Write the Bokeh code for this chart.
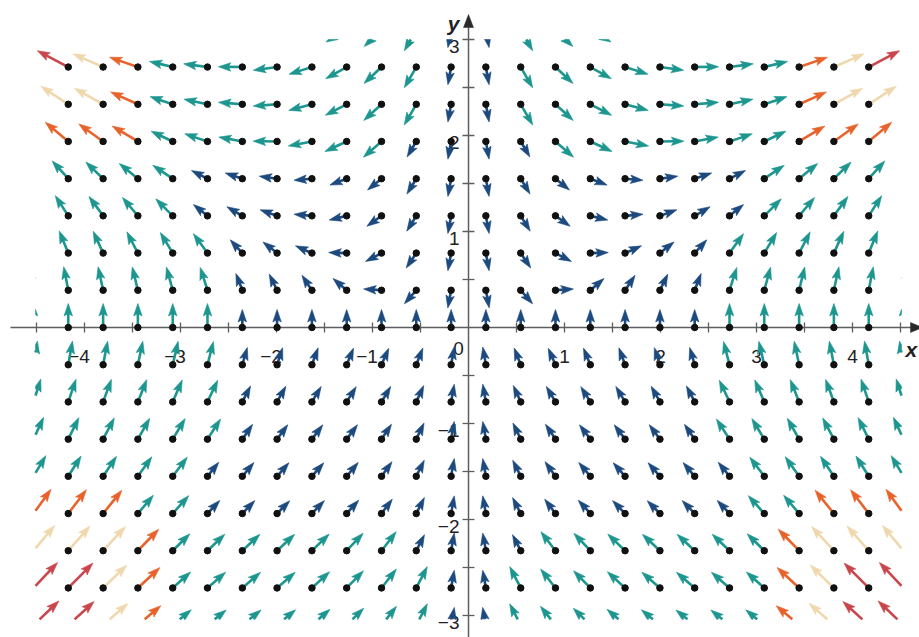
import numpy as np
from bokeh.plotting import figure
from bokeh.models import Range1d
from bokeh.embed import file_html
from bokeh.resources import INLINE
from bokeh.core.properties import value

# ---------------- data ----------------
X_COLS = [-4.531, -4.169, -3.806, -3.444, -3.081, -2.719, -2.356, -1.994, -1.631, -1.269, -0.906, -0.544, -0.181,
          0.181, 0.544, 0.906, 1.269, 1.631, 1.994, 2.356, 2.719, 3.081, 3.444, 3.806, 4.169, 4.531]
Y_ROWS = [3.1, 2.713, 2.325, 1.938, 1.55, 1.163, 0.775, 0.388, 0.0,
          -0.388, -0.775, -1.163, -1.55, -1.938, -2.325, -2.713, -3.1]

# horizontal components, one list per row (top to bottom)
U_ROWS = [
    [-28.09,-25.85,-23.60,-21.35,-19.10,-16.86,-14.61,-12.36,-10.11,-7.87,-5.62,-3.37,-1.12,1.12,3.37,5.62,7.87,10.11,12.36,14.61,16.86,19.10,21.35,23.60,25.85,28.09],
    [-24.58,-22.62,-20.65,-18.68,-16.72,-14.75,-12.78,-10.82,-8.85,-6.88,-4.92,-2.95,-0.98,0.98,2.95,4.92,6.88,8.85,10.82,12.78,14.75,16.72,18.68,20.65,22.62,24.58],
    [-21.07,-19.38,-17.70,-16.01,-14.33,-12.64,-10.96,-9.27,-7.59,-5.90,-4.21,-2.53,-0.84,0.84,2.53,4.21,5.90,7.59,9.27,10.96,12.64,14.33,16.01,17.70,19.38,21.07],
    [-17.56,-16.15,-14.75,-13.34,-11.94,-10.54,-9.13,-7.73,-6.32,-4.92,-3.51,-2.11,-0.70,0.70,2.11,3.51,4.92,6.32,7.73,9.13,10.54,11.94,13.34,14.75,16.15,17.56],
    [-14.05,-12.92,-11.80,-10.68,-9.55,-8.43,-7.30,-6.18,-5.06,-3.93,-2.81,-1.69,-0.56,0.56,1.69,2.81,3.93,5.06,6.18,7.30,8.43,9.55,10.68,11.80,12.92,14.05],
    [-10.54,-9.69,-8.85,-8.01,-7.16,-6.32,-5.48,-4.64,-3.79,-2.95,-2.11,-1.26,-0.42,0.42,1.26,2.11,2.95,3.79,4.64,5.48,6.32,7.16,8.01,8.85,9.69,10.54],
    [-7.02,-6.46,-5.90,-5.34,-4.78,-4.21,-3.65,-3.09,-2.53,-1.97,-1.40,-0.84,-0.28,0.28,0.84,1.40,1.97,2.53,3.09,3.65,4.21,4.78,5.34,5.90,6.46,7.02],
    [-3.51,-3.23,-2.95,-2.67,-2.39,-2.11,-1.83,-1.55,-1.26,-0.98,-0.70,-0.42,-0.14,0.14,0.42,0.70,0.98,1.26,1.55,1.83,2.11,2.39,2.67,2.95,3.23,3.51],
    [0, 0, 0, 0, 0, 0, 0, 0, 0, 0, 0, 0, 0, 0, 0, 0, 0, 0, 0, 0, 0, 0, 0, 0, 0, 0],
    [3.51,3.23,2.95,2.67,2.39,2.11,1.83,1.55,1.26,0.98,0.70,0.42,0.14,-0.14,-0.42,-0.70,-0.98,-1.26,-1.55,-1.83,-2.11,-2.39,-2.67,-2.95,-3.23,-3.51],
    [7.02,6.46,5.90,5.34,4.78,4.21,3.65,3.09,2.53,1.97,1.40,0.84,0.28,-0.28,-0.84,-1.40,-1.97,-2.53,-3.09,-3.65,-4.21,-4.78,-5.34,-5.90,-6.46,-7.02],
    [10.54,9.69,8.85,8.01,7.16,6.32,5.48,4.64,3.79,2.95,2.11,1.26,0.42,-0.42,-1.26,-2.11,-2.95,-3.79,-4.64,-5.48,-6.32,-7.16,-8.01,-8.85,-9.69,-10.54],
    [14.05,12.92,11.80,10.68,9.55,8.43,7.30,6.18,5.06,3.93,2.81,1.69,0.56,-0.56,-1.69,-2.81,-3.93,-5.06,-6.18,-7.30,-8.43,-9.55,-10.68,-11.80,-12.92,-14.05],
    [17.56,16.15,14.75,13.34,11.94,10.54,9.13,7.73,6.32,4.92,3.51,2.11,0.70,-0.70,-2.11,-3.51,-4.92,-6.32,-7.73,-9.13,-10.54,-11.94,-13.34,-14.75,-16.15,-17.56],
    [21.07,19.38,17.70,16.01,14.33,12.64,10.96,9.27,7.59,5.90,4.21,2.53,0.84,-0.84,-2.53,-4.21,-5.90,-7.59,-9.27,-10.96,-12.64,-14.33,-16.01,-17.70,-19.38,-21.07],
    [24.58,22.62,20.65,18.68,16.72,14.75,12.78,10.82,8.85,6.88,4.92,2.95,0.98,-0.98,-2.95,-4.92,-6.88,-8.85,-10.82,-12.78,-14.75,-16.72,-18.68,-20.65,-22.62,-24.58],
    [28.09,25.85,23.60,21.35,19.10,16.86,14.61,12.36,10.11,7.87,5.62,3.37,1.12,-1.12,-3.37,-5.62,-7.87,-10.11,-12.36,-14.61,-16.86,-19.10,-21.35,-23.60,-25.85,-28.09],
]

# vertical components, one list per row (top to bottom)
V_ROWS = [
    [14.33,11.18,8.29,5.66,3.29,1.19,-0.65,-2.22,-3.54,-4.59,-5.38,-5.90,-6.17,-6.17,-5.90,-5.38,-4.59,-3.54,-2.22,-0.65,1.19,3.29,5.66,8.29,11.18,14.33],
    [15.11,11.95,9.06,6.43,4.07,1.97,0.13,-1.45,-2.76,-3.82,-4.60,-5.13,-5.39,-5.39,-5.13,-4.60,-3.82,-2.76,-1.45,0.13,1.97,4.07,6.43,9.06,11.95,15.11],
    [15.88,12.73,9.84,7.21,4.84,2.74,0.90,-0.67,-1.99,-3.04,-3.83,-4.35,-4.62,-4.62,-4.35,-3.83,-3.04,-1.99,-0.67,0.90,2.74,4.84,7.21,9.84,12.73,15.88],
    [16.66,13.50,10.61,7.98,5.62,3.52,1.68,0.10,-1.21,-2.27,-3.05,-3.58,-3.84,-3.84,-3.58,-3.05,-2.27,-1.21,0.10,1.68,3.52,5.62,7.98,10.61,13.50,16.66],
    [17.43,14.28,11.39,8.76,6.39,4.29,2.45,0.88,-0.44,-1.49,-2.28,-2.80,-3.07,-3.07,-2.80,-2.28,-1.49,-0.44,0.88,2.45,4.29,6.39,8.76,11.39,14.28,17.43],
    [18.21,15.05,12.16,9.53,7.17,5.07,3.23,1.65,0.34,-0.72,-1.50,-2.03,-2.29,-2.29,-2.03,-1.50,-0.72,0.34,1.65,3.23,5.07,7.17,9.53,12.16,15.05,18.21],
    [18.98,15.83,12.94,10.31,7.94,5.84,4.00,2.43,1.11,0.06,-0.73,-1.25,-1.52,-1.52,-1.25,-0.73,0.06,1.11,2.43,4.00,5.84,7.94,10.31,12.94,15.83,18.98],
    [19.76,16.60,13.71,11.08,8.72,6.62,4.78,3.20,1.89,0.84,0.05,-0.48,-0.74,-0.74,-0.48,0.05,0.84,1.89,3.20,4.78,6.62,8.72,11.08,13.71,16.60,19.76],
    [20.53,17.38,14.49,11.86,9.49,7.39,5.55,3.98,2.66,1.61,0.82,0.30,0.03,0.03,0.30,0.82,1.61,2.66,3.98,5.55,7.39,9.49,11.86,14.49,17.38,20.53],
    [21.31,18.15,15.26,12.63,10.27,8.17,6.33,4.75,3.44,2.38,1.60,1.07,0.81,0.81,1.07,1.60,2.38,3.44,4.75,6.33,8.17,10.27,12.63,15.26,18.15,21.31],
    [22.08,18.93,16.04,13.41,11.04,8.94,7.10,5.53,4.21,3.16,2.37,1.85,1.58,1.58,1.85,2.37,3.16,4.21,5.53,7.10,8.94,11.04,13.41,16.04,18.93,22.08],
    [22.86,19.70,16.81,14.18,11.82,9.72,7.88,6.30,4.99,3.93,3.15,2.62,2.36,2.36,2.62,3.15,3.93,4.99,6.30,7.88,9.72,11.82,14.18,16.81,19.70,22.86],
    [23.63,20.48,17.59,14.96,12.59,10.49,8.65,7.08,5.76,4.71,3.92,3.40,3.13,3.13,3.40,3.92,4.71,5.76,7.08,8.65,10.49,12.59,14.96,17.59,20.48,23.63],
    [24.41,21.25,18.36,15.73,13.37,11.27,9.43,7.85,6.54,5.48,4.70,4.17,3.91,3.91,4.17,4.70,5.48,6.54,7.85,9.43,11.27,13.37,15.73,18.36,21.25,24.41],
    [25.18,22.03,19.14,16.51,14.14,12.04,10.20,8.63,7.31,6.26,5.47,4.95,4.68,4.68,4.95,5.47,6.26,7.31,8.63,10.20,12.04,14.14,16.51,19.14,22.03,25.18],
    [25.96,22.80,19.91,17.28,14.92,12.82,10.98,9.40,8.09,7.03,6.25,5.72,5.46,5.46,5.72,6.25,7.03,8.09,9.40,10.98,12.82,14.92,17.28,19.91,22.80,25.96],
    [26.73,23.58,20.69,18.06,15.69,13.59,11.75,10.18,8.86,7.81,7.02,6.50,6.23,6.23,6.50,7.02,7.81,8.86,10.18,11.75,13.59,15.69,18.06,20.69,23.58,26.73],
]

# magnitude class of each arrow (B blue, T teal, O orange, G beige, R red)
CLASS_ROWS = [
    "RRGOTTTTTTTTBBTTTTTTTTOGRR",
    "RRGOTTTTTTTTBBTTTTTTTTOGRR",
    "GGGOTTTTTTTTBBTTTTTTTTOGGG",
    "OOOOTTTTTTTBBBBTTTTTTTOOOO",
    "TTTTTBBBBBBBBBBBBBBBBTTTTT",
    "TTTTTBBBBBBBBBBBBBBBBTTTTT",
    "TTTTTTBBBBBBBBBBBBBBTTTTTT",
    "TTTTTTBBBBBBBBBBBBBBTTTTTT",
    "TTTTTTBBBBBBBBBBBBBBTTTTTT",
    "TTTTTTBBBBBBBBBBBBBBTTTTTT",
    "TTTTTTBBBBBBBBBBBBBBTTTTTT",
    "TTTTTTBBBBBBBBBBBBBBTTTTTT",
    "TTTTTBBBBBBBBBBBBBBBBTTTTT",
    "OOOTTBBBBBBBBBBBBBBBBTTOOO",
    "GGGOTTTTTTTBBBBTTTTTTTOGGG",
    "RRGOTTTTTTTTBBTTTTTTTTOGRR",
    "RRGOTTTTTTTTBBTTTTTTTTOGRR",
]

X_TICK_VALUES = [-4, -3, -2, -1, 1, 2, 3, 4]
X_TICK_LABELS = ["\u22124", "\u22123", "\u22122", "\u22121", "1", "2", "3", "4"]
Y_TICK_VALUES = [-3, -2, -1, 1, 2, 3]
Y_TICK_LABELS = ["\u22123", "\u22122", "\u22121", "1", "2", "3"]
X_MARKS = [-4.5, -4.0, -3.5, -3.0, -2.5, -2.0, -1.5, -1.0, -0.5, 0.5, 1.0, 1.5, 2.0, 2.5, 3.0, 3.5, 4.0, 4.5]
Y_MARKS = [-3.0, -2.5, -2.0, -1.5, -1.0, -0.5, 0.5, 1.0, 1.5, 2.0, 2.5, 3.0]

# ---------------- styling ----------------
PALETTE = {"B": "#1d4a7e", "T": "#1c968f", "O": "#e8632b", "G": "#f0d8ae", "R": "#c8464c"}
ARROW_LEN_PX = {"B": 18, "T": 24, "O": 30, "G": 33, "R": 35}
HEAD_LEN_PX, HEAD_W_PX, NOTCH_PX, SHAFT_W = 12.5, 8.5, 2.5, 2.6
AXIS_COLOR = "#5e5e5e"
TEXT_COLOR = "#222222"
FONT = "Liberation Sans"

W, H = 919, 637
S = 96.0             # pixels per data unit (both axes)
OX, OY = 468, 327    # origin position inside the figure (px from left / top)


def px(n):
    return n / S


XMIN, XMAX = -OX / S, (W - OX) / S
YMIN, YMAX = -(H - OY) / S, OY / S
CLIP = (-4.51, 4.51, -3.04, 3.0)

p = figure(width=W, height=H, x_range=Range1d(XMIN, XMAX), y_range=Range1d(YMIN, YMAX),
           output_backend="svg", toolbar_location=None, x_axis_type=None, y_axis_type=None,
           min_border=0, outline_line_color=None, background_fill_color="white",
           border_fill_color="white")
p.title.visible = False
p.xgrid.visible = False
p.ygrid.visible = False


def clip_seg(x0, y0, x1, y1, xmin, xmax, ymin, ymax):
    t0, t1 = 0.0, 1.0
    dx, dy = x1 - x0, y1 - y0
    for pp, qq in ((-dx, x0 - xmin), (dx, xmax - x0), (-dy, y0 - ymin), (dy, ymax - y0)):
        if pp == 0:
            if qq < 0:
                return None
        else:
            t = qq / pp
            if pp < 0:
                t0 = max(t0, t)
            else:
                t1 = min(t1, t)
    if t0 >= t1:
        return None
    return (x0 + t0 * dx, y0 + t0 * dy, x0 + t1 * dx, y0 + t1 * dy)


def clip_poly(pts, xmin, xmax, ymin, ymax):
    def edge(pts, inside, inter):
        out = []
        for i in range(len(pts)):
            cur, prev = pts[i], pts[i - 1]
            if inside(cur):
                if not inside(prev):
                    out.append(inter(prev, cur))
                out.append(cur)
            elif inside(prev):
                out.append(inter(prev, cur))
        return out

    def ix(a, b, xc):
        t = (xc - a[0]) / (b[0] - a[0])
        return (xc, a[1] + t * (b[1] - a[1]))

    def iy(a, b, yc):
        t = (yc - a[1]) / (b[1] - a[1])
        return (a[0] + t * (b[0] - a[0]), yc)

    pts = edge(pts, lambda q: q[0] >= xmin, lambda a, b: ix(a, b, xmin))
    pts = edge(pts, lambda q: q[0] <= xmax, lambda a, b: ix(a, b, xmax))
    pts = edge(pts, lambda q: q[1] >= ymin, lambda a, b: iy(a, b, ymin))
    pts = edge(pts, lambda q: q[1] <= ymax, lambda a, b: iy(a, b, ymax))
    return pts


def dx_(page_x):
    return (page_x - OX) / S


def dy_(page_y):
    return (OY - page_y) / S


# ---------------- axes (drawn first, under the arrows) ----------------
ah = px(5)
p.segment(x0=[dx_(10)], y0=[0], x1=[dx_(911)], y1=[0], line_color=AXIS_COLOR, line_width=1.5)
p.segment(x0=[0], y0=[YMIN], x1=[0], y1=[dy_(27)], line_color=AXIS_COLOR, line_width=1.5)
p.segment(x0=X_MARKS, y0=[-px(5)] * len(X_MARKS), x1=X_MARKS, y1=[px(5)] * len(X_MARKS),
          line_color=AXIS_COLOR, line_width=1.3)
p.segment(x0=[-px(6)] * len(Y_MARKS), y0=Y_MARKS, x1=[px(6)] * len(Y_MARKS), y1=Y_MARKS,
          line_color=AXIS_COLOR, line_width=1.3)
xb, xt = dx_(910), dx_(922)
yb, yt = dy_(27), dy_(14)
p.patches(xs=[[xb, xt, xb], [-ah, 0, ah]], ys=[[-ah, 0, ah], [yb, yt, yb]],
          fill_color="#2a2a2a", line_color="#2a2a2a", line_width=0.5)

# tick labels
p.text(x=[v + px(5.3) for v in X_TICK_VALUES], y=[px(-29)] * len(X_TICK_VALUES), text=X_TICK_LABELS,
       text_align="right", text_baseline="alphabetic", text_font=value(FONT), text_font_size="19px",
       text_color=TEXT_COLOR)
p.text(x=[px(-9)] * len(Y_TICK_VALUES), y=[v - px(6.8) for v in Y_TICK_VALUES], text=Y_TICK_LABELS,
       text_align="right", text_baseline="alphabetic", text_font=value(FONT), text_font_size="19px",
       text_color=TEXT_COLOR)
p.text(x=[px(-10)], y=[px(-21)], text=["0"], text_align="center", text_baseline="alphabetic",
       text_font=value(FONT), text_font_size="19px", text_color=TEXT_COLOR)
p.text(x=[px(-9)], y=[dy_(23)], text=["y"], text_align="right", text_baseline="alphabetic",
       text_font=value(FONT), text_font_size="21px", text_font_style="bold italic", text_color=TEXT_COLOR)
p.text(x=[dx_(905)], y=[dy_(349)], text=["x"], text_align="left", text_baseline="alphabetic",
       text_font=value(FONT), text_font_size="21px", text_font_style="bold italic", text_color=TEXT_COLOR)

# ---------------- vector field ----------------
sx0, sy0, sx1, sy1, scol = [], [], [], [], []
hxs, hys, hcol = [], [], []
dxs, dys = [], []
hl, hw, nt = px(HEAD_LEN_PX), px(HEAD_W_PX), px(NOTCH_PX)
for r, y0 in enumerate(Y_ROWS):
    for c, x0 in enumerate(X_COLS):
        u, v = U_ROWS[r][c], V_ROWS[r][c]
        cls = CLASS_ROWS[r][c]
        n = float(np.hypot(u, v))
        ux, uy = u / n, v / n
        L = px(ARROW_LEN_PX[cls])
        tx, ty = x0 + L * ux, y0 + L * uy
        bx, by = tx - hl * ux, ty - hl * uy
        nx, ny = tx - (hl - nt) * ux, ty - (hl - nt) * uy
        qx, qy = -uy, ux
        poly = [(tx, ty), (bx + hw / 2 * qx, by + hw / 2 * qy), (nx, ny), (bx - hw / 2 * qx, by - hw / 2 * qy)]
        poly = clip_poly(poly, *CLIP)
        col = PALETTE[cls]
        if len(poly) >= 3:
            hxs.append([q[0] for q in poly])
            hys.append([q[1] for q in poly])
            hcol.append(col)
        seg = clip_seg(x0, y0, nx + px(0.5) * ux, ny + px(0.5) * uy, *CLIP)
        if seg is not None:
            sx0.append(seg[0]); sy0.append(seg[1]); sx1.append(seg[2]); sy1.append(seg[3]); scol.append(col)
        if CLIP[0] <= x0 <= CLIP[1] and CLIP[2] <= y0 <= CLIP[3]:
            dxs.append(x0); dys.append(y0)

p.segment(x0=sx0, y0=sy0, x1=sx1, y1=sy1, line_color=scol, line_width=SHAFT_W)
p.patches(xs=hxs, ys=hys, fill_color=hcol, line_color=hcol, line_width=0.6)
p.scatter(x=dxs, y=dys, size=6.5, fill_color="#111111", line_color="#111111")

open("out.html", "w").write(file_html(p, INLINE))
